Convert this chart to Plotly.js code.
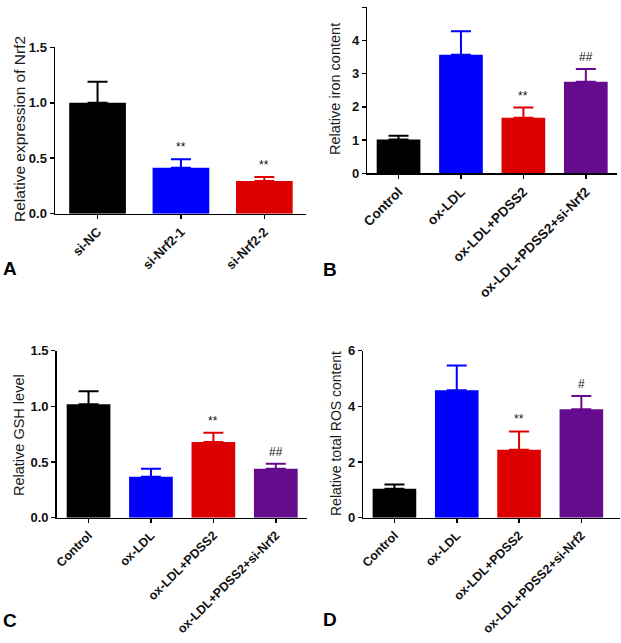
<!DOCTYPE html>
<html>
<head>
<meta charset="utf-8">
<script src="https://cdn.plot.ly/plotly-3.0.1.min.js"></script>
<style>
  html, body { margin: 0; padding: 0; background: #fff; }
  #fig { width: 621px; height: 643px; }
</style>
</head>
<body>
<div id="fig"></div>
<script>
  // panel A
  const catsA = ['si-NC', 'si-Nrf2-1', 'si-Nrf2-2'];
  const meanA = [1.0, 0.415, 0.295];
  const topA = [1.19, 0.49, 0.33];
  const sigA = ['', '**', '**'];

  // panels B, C, D share groups
  const catsOx = ['Control', 'ox-LDL', 'ox-LDL+PDSS2', 'ox-LDL+PDSS2+si-Nrf2'];
  const meanB = [1.02, 3.57, 1.67, 2.76];
  const topB = [1.13, 4.28, 1.98, 3.14];
  const sigB = ['', '', '**', '##'];

  const meanC = [1.02, 0.368, 0.68, 0.44];
  const topC = [1.135, 0.44, 0.763, 0.485];
  const sigC = ['', '', '**', '##'];

  const meanD = [1.04, 4.58, 2.44, 3.9];
  const topD = [1.19, 5.47, 3.1, 4.37];
  const sigD = ['', '', '**', '#'];

  const colsA = ['#000000', '#0000ff', '#dd0000'];
  const colsOx = ['#000000', '#0000ff', '#dd0000', '#650b8e'];

  const font = 'Arial, "Liberation Sans", sans-serif';

  function bars(cats, mean, top, cols, xa, ya, w) {
    // one trace per bar so each error bar takes the bar colour
    return cats.map((c, i) => ({
      type: 'bar',
      x: [c],
      y: [mean[i]],
      width: w,
      xaxis: xa,
      yaxis: ya,
      marker: { color: cols[i], line: { width: 0 } },
      error_y: {
        type: 'data', symmetric: false,
        array: [top[i] - mean[i]], arrayminus: [0],
        color: cols[i], thickness: 2, width: 10
      },
      hoverinfo: 'skip'
    }));
  }

  const data = [].concat(
    bars(catsA, meanA, topA, colsA, 'x', 'y', 0.68),
    bars(catsOx, meanB, topB, colsOx, 'x2', 'y2', 0.7),
    bars(catsOx, meanC, topC, colsOx, 'x3', 'y3', 0.7),
    bars(catsOx, meanD, topD, colsOx, 'x4', 'y4', 0.7)
  );

  function xax(anchor, dom, rng, fs) {
    return {
      anchor: anchor, domain: dom, range: rng, type: 'category',
      showline: true, linecolor: '#000', linewidth: 1.5,
      ticks: 'outside', ticklen: 4, tickwidth: 1.5, tickcolor: '#000',
      tickangle: -45, showgrid: false, zeroline: false,
      tickfont: { family: font, size: fs, color: '#111', weight: 700 }
    };
  }
  function yax(anchor, dom, rng, dt, fmt) {
    return {
      anchor: anchor, domain: dom, range: rng, dtick: dt, tickformat: fmt,
      showline: true, linecolor: '#000', linewidth: 1.5,
      ticks: 'outside', ticklen: 4, tickwidth: 1.5, tickcolor: '#000',
      showgrid: false, zeroline: false,
      tickfont: { family: font, size: 13, color: '#111', weight: 700 }
    };
  }

  const annotations = [];
  function sig(labels, cats, top, xa, ya) {
    labels.forEach((s, i) => {
      if (!s) return;
      annotations.push({
        xref: xa, yref: ya, x: cats[i], y: top[i], text: s,
        showarrow: false, yanchor: 'bottom', yshift: 3,
        font: { family: font, size: 12, color: '#111' }
      });
    });
  }
  sig(sigA, catsA, topA, 'x', 'y');
  sig(sigB, catsOx, topB, 'x2', 'y2');
  sig(sigC, catsOx, topC, 'x3', 'y3');
  sig(sigD, catsOx, topD, 'x4', 'y4');

  function ytitle(text, xpx, ypx, fs) {
    annotations.push({
      xref: 'paper', yref: 'paper', x: xpx / 621, y: 1 - ypx / 643,
      text: text, textangle: -90, showarrow: false,
      xanchor: 'center', yanchor: 'middle',
      font: { family: font, size: fs, color: '#1a1a1a' }
    });
  }
  ytitle('Relative expression of Nrf2', 19, 129, 15.5);
  ytitle('Relative iron content', 335, 89, 14.5);
  ytitle('Relative GSH level', 19, 435, 14.5);
  ytitle('Relative total ROS content', 336, 434, 14);

  function letter(t, xpx, ypx) {
    annotations.push({
      xref: 'paper', yref: 'paper', x: xpx / 621, y: 1 - ypx / 643,
      text: t, showarrow: false, xanchor: 'left', yanchor: 'middle',
      font: { family: font, size: 19, color: '#000', weight: 700 }
    });
  }
  letter('A', 1, 268);
  letter('B', 321, 269);
  letter('C', 1, 620);
  letter('D', 321, 619);

  const layout = {
    width: 621, height: 643,
    margin: { l: 0, r: 0, t: 0, b: 0 },
    paper_bgcolor: '#fff', plot_bgcolor: '#fff',
    showlegend: false,
    xaxis: xax('y', [0.0886, 0.4928], [-0.51, 2.5], 13),
    yaxis: yax('x', [0.6677, 0.9264], [0, 1.5], 0.5, '.1f'),
    xaxis2: xax('y2', [0.5915, 0.9936], [-0.5, 3.5], 13.5),
    yaxis2: yax('x2', [0.7305, 0.9886], [0, 5], 1, 'd'),
    xaxis3: xax('y3', [0.0913, 0.4944], [-0.51, 3.5], 12.5),
    yaxis3: yax('x3', [0.1949, 0.4546], [0, 1.5], 0.5, '.1f'),
    xaxis4: xax('y4', [0.585, 0.9984], [-0.5, 3.62], 12.5),
    yaxis4: yax('x4', [0.1949, 0.4546], [0, 6], 2, 'd'),
    annotations: annotations
  };

  Plotly.newPlot('fig', data, layout, { displayModeBar: false, staticPlot: true });
</script>
</body>
</html>
